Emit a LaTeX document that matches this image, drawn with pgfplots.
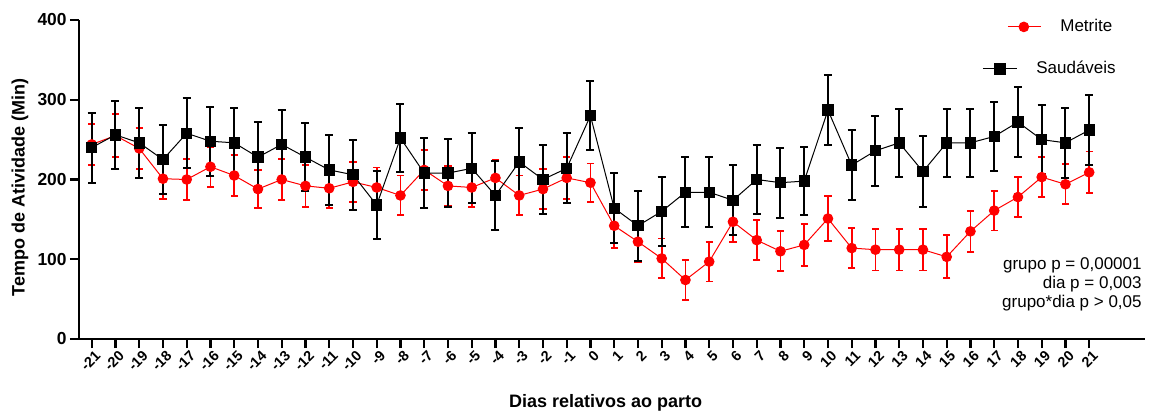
\documentclass[border=0pt]{standalone}
\usepackage{pgfplots}
\pgfplotsset{compat=1.18}
\usepackage{pgfplotstable}
\usepackage{fontspec}
\setmainfont{Liberation Sans}

\pgfplotstableread{
x y e
-21 244 26
-20 255 27
-19 239 26
-18 201 25
-17 200 26
-16 216 25
-15 205 26
-14 188 24
-13 200 26
-12 192 26
-11 189 25
-10 197 25
-9 190 25
-8 180 25
-7 212 25
-6 192 25
-5 190 24
-4 202 23
-3 180 25
-2 188 25
-1 202 26
0 196 24
1 142 28
2 122 25
3 101 25
4 74 25
5 97 25
6 147 25
7 124 25
8 110 25
9 118 26
10 151 28
11 114 25
12 112 26
13 112 26
14 112 26
15 103 27
16 135 26
17 161 25
18 178 25
19 203 25
20 194 25
21 209 26
}\metrite

\pgfplotstableread{
x y e
-21 240 44
-20 256 43
-19 246 44
-18 225 43
-17 258 44
-16 248 43
-15 246 44
-14 228 44
-13 244 43
-12 228 43
-11 212 44
-10 206 44
-9 168 43
-8 252 43
-7 208 44
-6 208 43
-5 214 44
-4 180 43
-3 222 43
-2 200 43
-1 214 44
0 280 43
1 164 44
2 142 44
3 160 43
4 184 44
5 184 44
6 174 44
7 200 43
8 196 44
9 198 43
10 287 44
11 218 44
12 236 44
13 246 43
14 210 44
15 246 43
16 246 43
17 254 43
18 272 44
19 250 43
20 246 44
21 262 44
}\saudaveis

\begin{document}
\begin{tikzpicture}
\begin{axis}[
  name=ax, at={(0,0)}, anchor=south west,
  scale only axis, width=533pt, height=159.5pt,
  xmin=-21.535, xmax=23.35, ymin=0, ymax=400,
  axis lines=left,
  axis line style={line width=1.2pt, -},
  xtick={-21,...,21},
  ytick={0,100,200,300,400},
  tick align=outside,
  major tick length=4.5pt,
  tick style={line width=1.1pt, black},
  /pgf/number format/assume math mode=true,
  yticklabel style={font=\bfseries\fontsize{8.7}{10}\selectfont, inner sep=1.5pt},
  xticklabel style={font=\bfseries\fontsize{7.2}{8}\selectfont, rotate=45, anchor=east, inner sep=0.5pt, yshift=-4pt, xshift=1pt},
  xlabel={\bfseries Dias relativos ao parto},
  ylabel={\bfseries Tempo de Atividade (Min)},
  label style={font=\fontsize{9}{10}\selectfont},
  xlabel style={at={(axis description cs:0.494,-0.2006)}, anchor=center},
  ylabel style={at={(axis description cs:-0.0553,0.475)}, anchor=center},
  clip=false,
  legend cell align=left,
  legend style={draw=none, fill=none,
    at={(axis description cs:0.8414,1.0188)}, anchor=north west,
    nodes={inner sep=0pt, text height=6.5pt, text depth=2pt, font=\fontsize{8.5}{10}\selectfont},
    row sep=12.5pt,
    /tikz/every odd column/.append style={column sep=9.5pt}},
]
\addplot[forget plot, red, line width=0.5pt, mark=*, mark size=2.4pt,
  error bars/.cd, y dir=both, y explicit,
  error bar style={line width=0.9pt, red},
  error mark options={rotate=90, mark size=1.8pt, line width=0.9pt, red}]
  table[x=x, y=y, y error=e] {\metrite};
\addplot[forget plot, black, line width=0.5pt, mark=square*, mark size=2.6pt,
  error bars/.cd, y dir=both, y explicit,
  error bar style={line width=1pt, black},
  error mark options={rotate=90, mark size=2pt, line width=1pt, black}]
  table[x=x, y=y, y error=e] {\saudaveis};

\addlegendimage{red, line width=0.5pt, mark=*, mark size=2.4pt,
  legend image code/.code={
    \path[draw=none] (0pt,0pt) -- (17pt,0pt);
    \draw[overlay] (12.5pt,0pt) -- (29pt,0pt);
    \draw[overlay] plot coordinates {(20.5pt,0pt)};
  }}
\addlegendentry{\hspace*{12pt}Metrite}
\addlegendimage{black, line width=0.5pt, mark=square*, mark size=2.6pt,
  legend image code/.code={
    \draw (0pt,0pt) -- (17pt,0pt);
    \draw plot coordinates {(8.5pt,0pt)};
  }}
\addlegendentry{Saud\'aveis}
\end{axis}
\begin{scope}[every node/.style={anchor=base east, inner sep=0pt, font=\fontsize{8.5}{10}\selectfont}]
\node[xshift=-1.5pt, yshift=35pt] at (ax.south east) {grupo p = 0,00001};
\node[xshift=-1.5pt, yshift=25.5pt] at (ax.south east) {dia p = 0,003};
\node[xshift=-1.5pt, yshift=16pt] at (ax.south east) {grupo*dia p > 0,05};
\end{scope}
\pgfresetboundingbox
\useasboundingbox (ax.south west) ++(-39.5pt,-37pt) rectangle ++(575pt,206.5pt);
\end{tikzpicture}
\end{document}
